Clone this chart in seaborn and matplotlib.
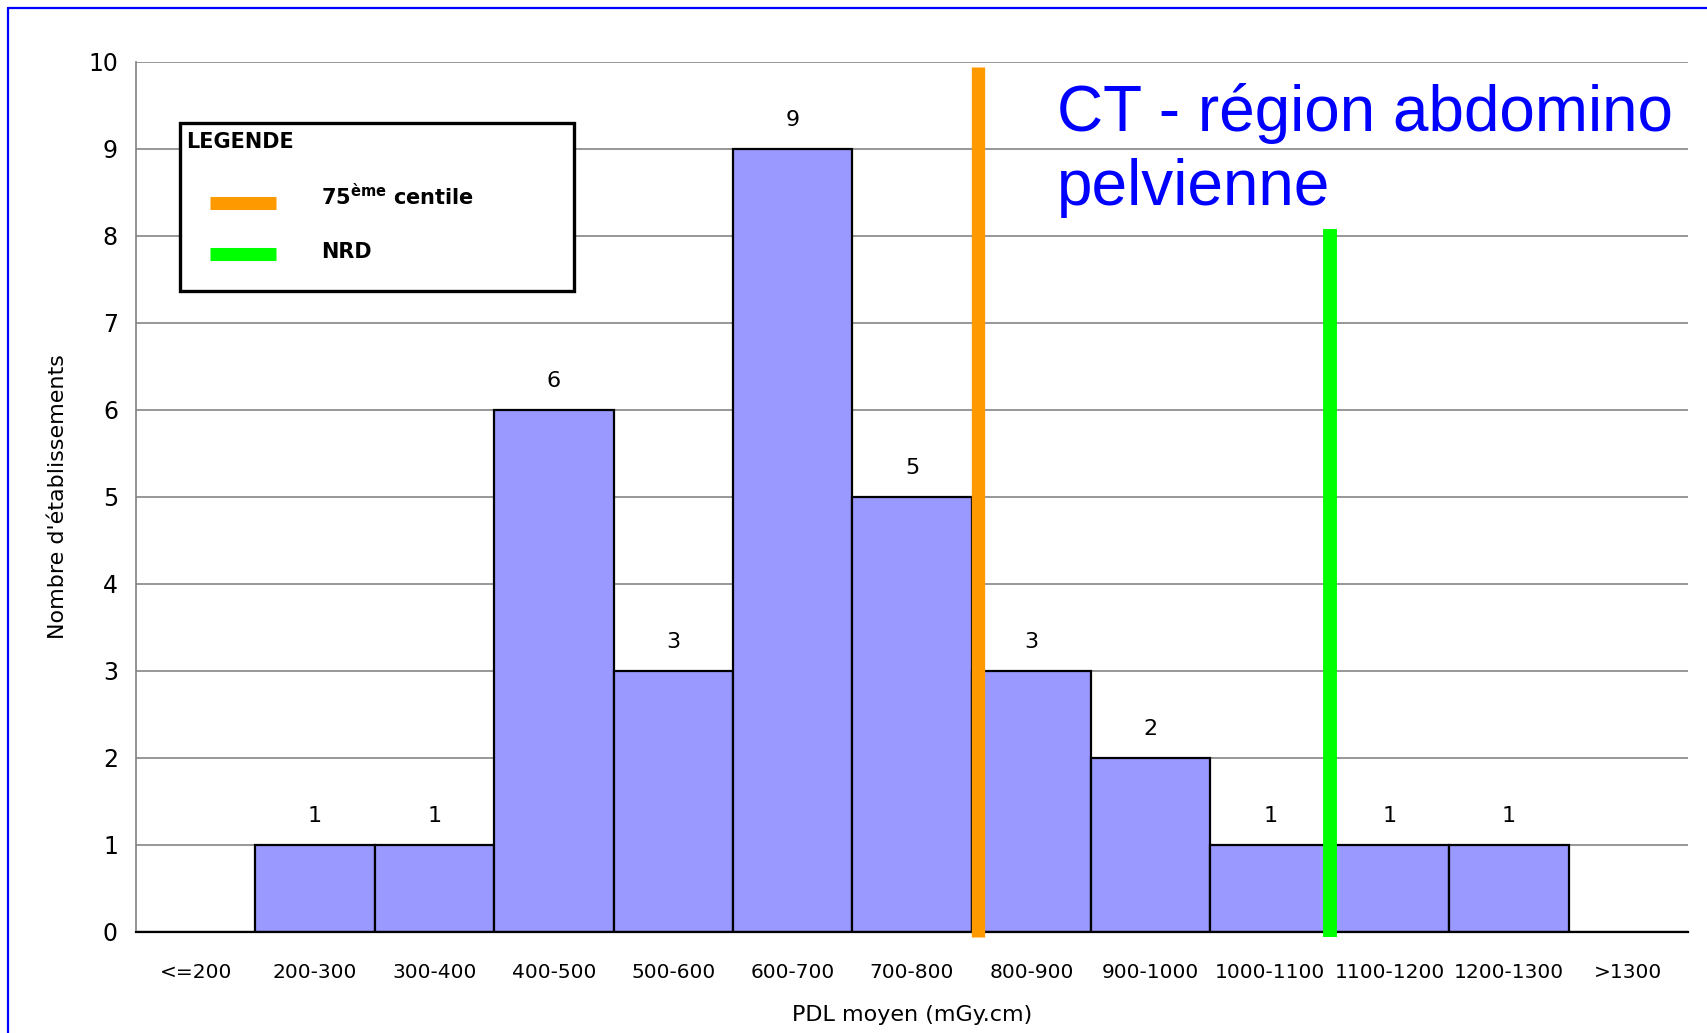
import matplotlib
matplotlib.use("Agg")
import matplotlib.pyplot as plt
from matplotlib.lines import Line2D
from matplotlib.patches import Rectangle
import seaborn as sns

# Histogram of mean DLP per facility (abdomino-pelvic CT)
categories = ["<=200", "200-300", "300-400", "400-500", "500-600", "600-700",
              "700-800", "800-900", "900-1000", "1000-1100", "1100-1200",
              "1200-1300", ">1300"]
counts = [0, 1, 1, 6, 3, 9, 5, 3, 2, 1, 1, 1, 0]
y_ticks = [0, 1, 2, 3, 4, 5, 6, 7, 8, 9, 10]

# Reference levels in mGy.cm and the height of their markers
centile_75 = 805
nrd = 1100
centile_75_top = 9.94
nrd_top = 8.08
bin_start = 200
bin_width = 100

title_lines = ["CT - région abdomino", "pelvienne"]

sns.set_theme(style="white")
plt.rcParams["font.family"] = ["DejaVu Sans"]
plt.rcParams["text.color"] = "black"
plt.rcParams["axes.labelcolor"] = "black"
plt.rcParams["xtick.color"] = "black"
plt.rcParams["ytick.color"] = "black"

fig = plt.figure(figsize=(17.08, 10.33), dpi=100)
ax = fig.add_axes([0.0796, 0.0978, 0.9087, 0.8422])

sns.barplot(x=categories, y=counts, color="#9999FF", saturation=1,
            edgecolor="black", linewidth=1.6, width=1.0, ax=ax, zorder=2)

ax.set_xlim(-0.5, len(categories) - 0.5)
ax.set_ylim(0, 10)
ax.set_yticks(y_ticks)
ax.yaxis.grid(True, color="#7a7a7a", linewidth=1.1, zorder=0)
ax.set_axisbelow(True)

for s in ["top", "right"]:
    ax.spines[s].set_visible(False)
ax.spines["left"].set_color("#808080")
ax.spines["left"].set_linewidth(1.2)
ax.spines["bottom"].set_color("black")
ax.spines["bottom"].set_linewidth(1.6)

# category labels centred, tick marks on bin boundaries
ax.tick_params(axis="x", which="major", length=0, pad=22, labelsize=14.5,
               labelcolor="black")
ax.set_xticks([i - 0.5 for i in range(len(categories) + 1)], minor=True)
ax.tick_params(axis="x", which="minor", length=7, width=1, color="#808080",
               direction="out")
ax.tick_params(axis="y", length=7, width=1, color="#808080", direction="out",
               pad=6, labelsize=17, labelcolor="black")

# value labels above each bar
for i, c in enumerate(counts):
    if c > 0:
        ax.text(i, c + 0.22, str(c), ha="center", va="bottom", fontsize=16,
                color="black")


def to_axis(value):
    return (value - bin_start) / bin_width + 0.5


ax.plot([to_axis(centile_75)] * 2, [-0.06, centile_75_top], color="#FF9900",
        linewidth=9.6, solid_capstyle="butt", clip_on=False, zorder=4)
ax.plot([to_axis(nrd)] * 2, [-0.06, nrd_top], color="#00FF00",
        linewidth=10, solid_capstyle="butt", clip_on=False, zorder=4)

ax.set_xlabel("PDL moyen (mGy.cm)", fontsize=16, color="black")
ax.xaxis.set_label_coords(0.5, -0.084)
ax.set_ylabel("Nombre d'établissements", fontsize=16, color="black")
ax.yaxis.set_label_coords(-0.044, 0.5)

# legend box
tr = ax.transAxes
ax.add_patch(Rectangle((0.0284, 0.737), 0.2538, 0.193, transform=tr,
                       facecolor="white", edgecolor="black", linewidth=2.4,
                       zorder=6))
ax.text(0.0325, 0.908, "LEGENDE", transform=tr, ha="left", va="center",
        fontsize=15, fontweight="bold", color="black", zorder=7)
ax.add_line(Line2D([0.0477, 0.0902], [0.838, 0.838], transform=tr,
                   color="#FF9900", linewidth=9.4, solid_capstyle="butt",
                   zorder=7))
ax.add_line(Line2D([0.0477, 0.0902], [0.779, 0.779], transform=tr,
                   color="#00FF00", linewidth=9.4, solid_capstyle="butt",
                   zorder=7))
ax.text(0.119, 0.846, r"75$^{\mathbf{ème}}$ centile", transform=tr,
        ha="left", va="center", fontsize=15, fontweight="bold",
        color="black", zorder=7)
ax.text(0.119, 0.782, "NRD", transform=tr, ha="left", va="center",
        fontsize=15, fontweight="bold", color="black", zorder=7)

# title in two lines
fig.text(0.6189, 0.8732, title_lines[0], ha="left", va="baseline",
         fontsize=46, color="#0000FF", family=["Liberation Sans"])
fig.text(0.6189, 0.8015, title_lines[1], ha="left", va="baseline",
         fontsize=46, color="#0000FF", family=["Liberation Sans"])

# blue frame (top and left edges visible)
fig.add_artist(Line2D([0.0044, 0.0044], [0, 0.9925], transform=fig.transFigure,
                      color="#0000FF", linewidth=1.6))
fig.add_artist(Line2D([0.0044, 1.0], [0.9925, 0.9925], transform=fig.transFigure,
                      color="#0000FF", linewidth=1.6))

fig.savefig("out.png", dpi=100)
